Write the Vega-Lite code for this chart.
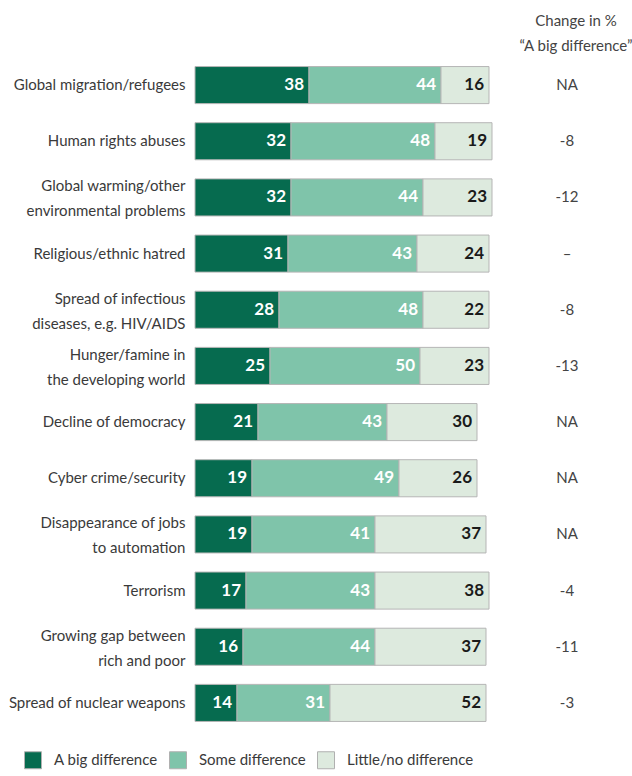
{
  "$schema": "https://vega.github.io/schema/vega-lite/v6.json",
  "autosize": "none",
  "width": 372,
  "height": 674,
  "padding": {"left": 195, "top": 57, "right": 65, "bottom": 45},
  "background": "white",
  "config": {
    "view": {"stroke": null},
    "font": "Lato, sans-serif"
  },
  "title": {
    "text": ["Change in %", "“A big difference”"],
    "anchor": "end",
    "frame": "group",
    "align": "center",
    "dx": 9,
    "offset": 3,
    "fontSize": 15,
    "fontWeight": "normal",
    "lineHeight": 25,
    "color": "#444444",
    "font": "Lato, sans-serif"
  },
  "datasets": {
    "bars": [
      {"item": "Global migration/refugees", "series": "A big difference", "order": 1, "value": 38},
      {"item": "Global migration/refugees", "series": "Some difference", "order": 2, "value": 44},
      {"item": "Global migration/refugees", "series": "Little/no difference", "order": 3, "value": 16},
      {"item": "Human rights abuses", "series": "A big difference", "order": 1, "value": 32},
      {"item": "Human rights abuses", "series": "Some difference", "order": 2, "value": 48},
      {"item": "Human rights abuses", "series": "Little/no difference", "order": 3, "value": 19},
      {"item": "Global warming/other|environmental problems", "series": "A big difference", "order": 1, "value": 32},
      {"item": "Global warming/other|environmental problems", "series": "Some difference", "order": 2, "value": 44},
      {"item": "Global warming/other|environmental problems", "series": "Little/no difference", "order": 3, "value": 23},
      {"item": "Religious/ethnic hatred", "series": "A big difference", "order": 1, "value": 31},
      {"item": "Religious/ethnic hatred", "series": "Some difference", "order": 2, "value": 43},
      {"item": "Religious/ethnic hatred", "series": "Little/no difference", "order": 3, "value": 24},
      {"item": "Spread of infectious|diseases, e.g. HIV/AIDS", "series": "A big difference", "order": 1, "value": 28},
      {"item": "Spread of infectious|diseases, e.g. HIV/AIDS", "series": "Some difference", "order": 2, "value": 48},
      {"item": "Spread of infectious|diseases, e.g. HIV/AIDS", "series": "Little/no difference", "order": 3, "value": 22},
      {"item": "Hunger/famine in|the developing world", "series": "A big difference", "order": 1, "value": 25},
      {"item": "Hunger/famine in|the developing world", "series": "Some difference", "order": 2, "value": 50},
      {"item": "Hunger/famine in|the developing world", "series": "Little/no difference", "order": 3, "value": 23},
      {"item": "Decline of democracy", "series": "A big difference", "order": 1, "value": 21},
      {"item": "Decline of democracy", "series": "Some difference", "order": 2, "value": 43},
      {"item": "Decline of democracy", "series": "Little/no difference", "order": 3, "value": 30},
      {"item": "Cyber crime/security", "series": "A big difference", "order": 1, "value": 19},
      {"item": "Cyber crime/security", "series": "Some difference", "order": 2, "value": 49},
      {"item": "Cyber crime/security", "series": "Little/no difference", "order": 3, "value": 26},
      {"item": "Disappearance of jobs|to automation", "series": "A big difference", "order": 1, "value": 19},
      {"item": "Disappearance of jobs|to automation", "series": "Some difference", "order": 2, "value": 41},
      {"item": "Disappearance of jobs|to automation", "series": "Little/no difference", "order": 3, "value": 37},
      {"item": "Terrorism", "series": "A big difference", "order": 1, "value": 17},
      {"item": "Terrorism", "series": "Some difference", "order": 2, "value": 43},
      {"item": "Terrorism", "series": "Little/no difference", "order": 3, "value": 38},
      {"item": "Growing gap between|rich and poor", "series": "A big difference", "order": 1, "value": 16},
      {"item": "Growing gap between|rich and poor", "series": "Some difference", "order": 2, "value": 44},
      {"item": "Growing gap between|rich and poor", "series": "Little/no difference", "order": 3, "value": 37},
      {"item": "Spread of nuclear weapons", "series": "A big difference", "order": 1, "value": 14},
      {"item": "Spread of nuclear weapons", "series": "Some difference", "order": 2, "value": 31},
      {"item": "Spread of nuclear weapons", "series": "Little/no difference", "order": 3, "value": 52}
    ],
    "change": [
      {"item": "Global migration/refugees", "change": "NA"},
      {"item": "Human rights abuses", "change": "-8"},
      {"item": "Global warming/other|environmental problems", "change": "-12"},
      {"item": "Religious/ethnic hatred", "change": "–"},
      {"item": "Spread of infectious|diseases, e.g. HIV/AIDS", "change": "-8"},
      {"item": "Hunger/famine in|the developing world", "change": "-13"},
      {"item": "Decline of democracy", "change": "NA"},
      {"item": "Cyber crime/security", "change": "NA"},
      {"item": "Disappearance of jobs|to automation", "change": "NA"},
      {"item": "Terrorism", "change": "-4"},
      {"item": "Growing gap between|rich and poor", "change": "-11"},
      {"item": "Spread of nuclear weapons", "change": "-3"}
    ]
  },
  "encoding": {
    "y": {
      "field": "item",
      "type": "nominal",
      "scale": {
        "domain": [
          "Global migration/refugees",
          "Human rights abuses",
          "Global warming/other|environmental problems",
          "Religious/ethnic hatred",
          "Spread of infectious|diseases, e.g. HIV/AIDS",
          "Hunger/famine in|the developing world",
          "Decline of democracy",
          "Cyber crime/security",
          "Disappearance of jobs|to automation",
          "Terrorism",
          "Growing gap between|rich and poor",
          "Spread of nuclear weapons"
        ],
        "paddingInner": 0.34,
        "paddingOuter": 0.17
      },
      "axis": {
        "title": null,
        "domain": false,
        "ticks": false,
        "labelPadding": 10,
        "labelFont": "Lato, sans-serif",
        "labelFontSize": 15,
        "labelColor": "#3a3a3a",
        "labelLineHeight": 25,
        "labelLimit": 300,
        "labelOffset": {"condition": {"test": "indexof(datum.value, '|') >= 0", "value": -11}, "value": 0},
        "labelExpr": "split(datum.label, '|')"
      }
    }
  },
  "layer": [
    {
      "data": {"name": "bars"},
      "transform": [
        {"stack": "value", "groupby": ["item"], "sort": [{"field": "order", "order": "ascending"}], "as": ["x0", "x1"]}
      ],
      "layer": [
        {
          "mark": {"type": "bar", "stroke": "#b5b5b5", "strokeWidth": 1},
          "encoding": {
            "x": {"field": "x0", "type": "quantitative", "scale": {"domain": [0, 124], "nice": false, "zero": true}, "axis": null},
            "x2": {"field": "x1"},
            "color": {
              "field": "series",
              "type": "nominal",
              "scale": {
                "domain": ["A big difference", "Some difference", "Little/no difference"],
                "range": ["#066b4f", "#7fc4aa", "#ddeade"]
              },
              "legend": {
                "title": null,
                "orient": "none",
                "legendX": -171,
                "legendY": 694,
                "direction": "horizontal",
                "symbolType": "square",
                "symbolSize": 289,
                "symbolStrokeColor": "#b0b0b0",
                "symbolStrokeWidth": 1,
                "symbolOpacity": 1,
                "labelFont": "Lato, sans-serif",
                "labelFontSize": 15,
                "labelColor": "#3a3a3a",
                "labelOffset": 12,
                "columnPadding": 9
              }
            }
          }
        },
        {
          "mark": {"type": "text", "align": "right", "baseline": "middle", "dx": -5, "fontSize": 17, "fontWeight": "bold", "font": "Lato, sans-serif"},
          "encoding": {
            "x": {"field": "x1", "type": "quantitative"},
            "text": {"field": "value", "type": "quantitative"},
            "color": {
              "condition": {"test": "datum.series === 'Little/no difference'", "value": "#1a1a1a"},
              "value": "#ffffff"
            }
          }
        }
      ]
    },
    {
      "data": {"name": "change"},
      "mark": {"type": "text", "align": "center", "baseline": "middle", "fontSize": 15, "color": "#444444", "font": "Lato, sans-serif"},
      "encoding": {
        "x": {"datum": 124, "type": "quantitative"},
        "text": {"field": "change", "type": "nominal"}
      }
    }
  ]
}
